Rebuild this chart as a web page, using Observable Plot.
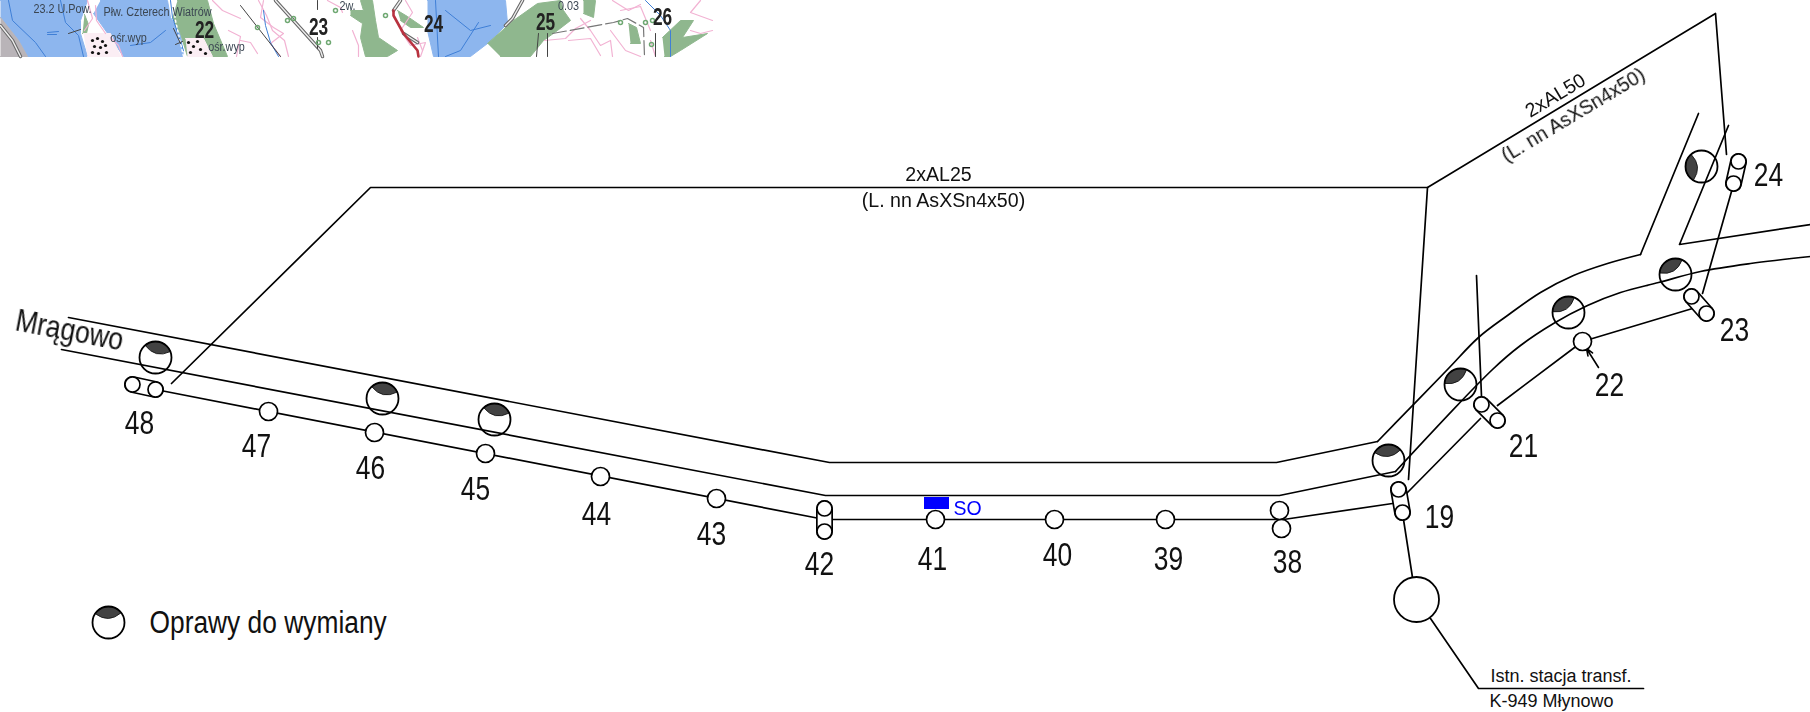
<!DOCTYPE html>
<html><head><meta charset="utf-8">
<script src="https://cdn.jsdelivr.net/npm/d3@7"></script>
<script src="https://cdn.jsdelivr.net/npm/@observablehq/plot@0.6"></script>
<style>
html,body{margin:0;padding:0;background:#fff;overflow:hidden}
svg{display:block}
.map{filter:blur(0.7px)}
</style></head><body><div id="c"></div>
<script>
// ---- network lines
const lineTop = [[68,317],[829,462],[1276,462],[1377,441]];
const lineTopCurve = [[1377,441],[1447,369],[1478,337],[1507,315],[1540,292],[1573,275],[1607,263],[1640,254]];
const lineTopEnd = [[1640,254],[1698,113]];
const lineMid = [[61,349],[825,495],[1279,495],[1395,471]];
const lineMidCurve = [[1395,471],[1492,369],[1520,345],[1553,323],[1587,305],[1620,292],[1658,282],[1700,271],[1750,263],[1810,256]];
const lineUpper = [[1728,125],[1679,244],[1810,224]];
const lineBottomA = [[155,389],[819,518]];
const lineBottomB = [[824,519],[1283,519],[1392,503]];
const lineBottomC = [[1406,493],[1480,418]];
const lineBottomD = [[1497,405],[1582,341],[1692,308]];
const line24 = [[1731,191],[1702,293]];
const lineFeedA = [[1403,519],[1412,577]];
const lineFeedB = [[1430,618],[1478,688],[1643,688]];
const lineBranch21 = [[1476,275],[1481,396]];
const lineCable = [[171,383],[370,187],[1427,187],[1715,13],[1726,154]];
const lineCableDrop = [[1427,187],[1408,479]];
const networkLines = [lineTop,lineTopEnd,lineMid,lineUpper,lineBottomA,lineBottomB,lineBottomC,lineBottomD,line24,lineFeedA,lineFeedB,lineBranch21,lineCable,lineCableDrop];
const networkCurves = [lineTopCurve,lineMidCurve];
// ---- poles
const polesSmall = [[132,384],[155,389],[824,508],[824,531],[1398,489],[1402,512],[1481,404],[1497,420],[1691,296],[1706,313],[1738,161],[1733,183]];
const polesLarge = [[268,411],[374,432],[485,453],[600,476],[716,498],[935,519],[1054,519],[1165,519],[1279,510],[1281,528],[1582,341]];
const capsules = [[132,384,155,389],[824,508,824,531],[1398,489,1402,512],[1481,404,1497,420],[1691,296,1706,313],[1738,161,1733,183]];
const station = [[1416,599]];
// ---- fixtures [x, y, rotation]
const fixtures = [[155,357,14],[382,398,12],[494,419,12],[1388,460,-6],[1460,384,-32],[1568,312,-33],[1675,274,-30],[1701,166,-95],[108,622,-2]];
// ---- labels
const poleLabels = [["48",139,423],["47",256,446],["46",370,468],["45",475,489],["44",596,514],["43",711,534],["42",819,564],["41",932,559],["40",1057,555],["39",1168,559],["38",1287,562],["19",1439,517],["21",1523,446],["22",1609,385],["23",1734,330],["24",1768,175]];
const cableLabelsFlat = [["2xAL25",938,174],["(L. nn AsXSn4x50)",943,200]];
const cableLabelsSlant = [["2xAL50",1555,95],["(L. nn AsXSn4x50)",1573,115]];
const stationLabels = [["Istn. stacja transf.",1490,676],["K-949 Młynowo",1489,701]];
const soBox = [[924,497,949,509]];
const soLabel = [["SO",953,508]];
const townLabel = [["Mrągowo",69,330]];
const legendLabel = [["Oprawy do wymiany",149,623]];
const arrow22 = [[1598,367,1586,348]];
// ---- map sheet
const mapBlue = [
  [[0,0],[87,0],[80,20],[80,33],[87,56],[27,56],[18,40],[0,17]],
  [[100,0],[167,0],[170,17],[180,33],[183,56],[123,56],[110,37],[93,13]],
  [[427,0],[505,0],[507,23],[487,43],[470,56],[433,56],[427,30]]
];
const mapGreen = [
  [[177,0],[207,0],[213,23],[227,56],[187,56],[180,33],[172,17]],
  [[350,10],[363,10],[360,0],[372,0],[375,20],[378,37],[397,50],[387,56],[365,56],[360,37],[362,23],[350,15]],
  [[397,10],[407,16],[423,27],[410,27],[400,20]],
  [[487,43],[513,20],[537,3],[560,0],[563,10],[570,20],[557,30],[543,40],[530,56],[500,56]],
  [[583,0],[595,0],[593,17],[583,13]],
  [[628,23],[636,27],[640,43],[630,43]],
  [[662,37],[680,20],[693,20],[682,37],[707,33],[680,50],[670,56],[664,56]],
  [[84,14],[88,24],[86,33],[82,33]]
];
const mapGrey = [[[0,17],[18,40],[27,56],[0,56]]];
const mapTown = [[[83,33],[110,33],[120,56],[87,56]],[[185,38],[203,38],[212,56],[187,56]]];
const mapPink = [
  [[87,0],[92,18],[84,30]],[[95,5],[96,20],[105,33]],[[110,37],[118,45],[122,56]],
  [[263,0],[260,17],[273,27],[283,33],[270,43],[280,56]],[[258,0],[266,15],[272,30],[284,40],[288,56]],
  [[240,40],[250,42],[257,53]],[[327,0],[340,7],[342,12]],[[352,30],[358,45],[358,56]],
  [[405,0],[412,12],[400,30],[410,45],[425,42],[420,56]],[[417,37],[422,50]],
  [[212,0],[222,10],[240,18]],[[228,30],[240,36],[236,56]],
  [[544,40],[565,38],[575,28],[590,20]],[[568,40],[590,38],[600,55]],[[580,18],[590,30],[600,45],[610,40],[612,56]],
  [[620,10],[640,6],[650,30]],[[610,30],[625,50],[640,56]],[[612,0],[628,10],[640,4]],
  [[690,30],[700,33],[712,30]],[[650,40],[655,56]],[[700,0],[690,12],[712,20]]
];
const mapRoads = [[[275,0],[320,50],[322,56]],[[400,0],[393,10]],[[403,33],[417,42]],[[505,25],[512,18],[522,0]],[[0,25],[12,40],[20,56]]];
const mapRoadRed = [[393,10],[393,15],[403,33],[417,50],[418,56]];
const mapDark = [[[240,5],[280,56]],[[317,0],[317,9]],[[317,37],[317,48]],[[68,33],[80,29]],[[538,33],[536,56]],[[547,33],[547,56]],[[655,33],[655,56]],[[173,28],[180,43]],[[175,44],[182,41]]];
const mapBlueLines = [[[263,10],[265,25],[270,42],[278,56]],[[645,0],[660,15],[670,30],[670,56]],[[170,0],[172,17],[183,50]],[[8,0],[12,20],[35,42],[45,56]],[[60,0],[65,22],[78,35],[83,56]],[[130,45],[150,42],[165,30]],[[445,10],[470,30],[490,25]],[[435,0],[438,56]],[[445,56],[460,50],[478,22]],[[47,32],[58,31]],[[47,34],[56,34]]];
const mapWhiteDots = [[172,0],[175,20],[183,56]];
const mapDashed = [[552,33],[613,22],[627,18],[643,27],[644,56]];
const mapBlack = [[92,40],[97,38],[102,41],[94,46],[100,47],[105,45],[92,52],[98,53],[106,52],[188,42],[193,46],[197,41],[200,49],[205,53],[190,52]];
const mapGreenDots = [[257,27],[287,20],[293,18],[335,10],[328,42],[318,42],[620,22],[645,22],[652,20],[651,44],[385,15]];
const mapBigNumbers = [["22",204,30],["23",318,27],["24",433,24],["25",545,22],["26",662,17]];
const mapSmallText = [["23.2 U.Pow.",62,9],["Płw. Czterech Wiatrów",157,12],["ośr.wyp",128,38],["ośr.wyp",226,47],["2w.",347,6],["0.03",568,6]];

// ---- lens symbol drawn by the dot mark, dark cap of a fixture
const lens = {draw(ctx, size){
  const r = Math.sqrt(size/Math.PI), a = Math.atan2(0.58, 0.81);
  const xe = r*0.81, ye = -r*0.58;
  ctx.moveTo(-xe, ye);
  ctx.arc(0, 0, r, Math.PI + a, 2*Math.PI - a);
  ctx.quadraticCurveTo(0, r*0.08, -xe, ye);
  ctx.closePath();
}};
const sans = "'Liberation Sans',Arial,sans-serif";
const X = d=>d[0], Y = d=>d[1], T = d=>d[0], TX = d=>d[1], TY = d=>d[2];
const poly = (p,fill)=>Plot.line(p,{x:X,y:Y,fill,stroke:fill,strokeWidth:1,className:"map"});
const path = (p,stroke,w,extra={})=>Plot.line(p,{x:X,y:Y,stroke,strokeWidth:w,className:"map",...extra});

const chart = Plot.plot({
  width:1810,height:712,margin:0,
  style:{background:"#fff",overflow:"hidden",maxWidth:"none"},
  x:{axis:null,domain:[0,1810],range:[0,1810]},
  y:{axis:null,domain:[0,712],range:[0,712]},
  marks:[
    ...mapBlue.map(p=>poly(p,"#8db6ee")),
    ...mapGreen.map(p=>poly(p,"#8fb78e")),
    ...mapGrey.map(p=>poly(p,"#b9b4b8")),
    ...mapTown.map(p=>poly(p,"#fbeef4")),
    ...mapPink.map(p=>path(p,"#f2b3d3",1.2)),
    ...mapBlueLines.map(p=>path(p,"#3f7fd6",1)),
    ...mapRoads.map(p=>path(p,"#666",3.5)),
    ...mapRoads.map(p=>path(p,"#eee",1.4)),
    path(mapRoadRed,"#b8323f",2.6),
    path(mapWhiteDots,"#fff",1.4,{strokeDasharray:"2 3"}),
    path(mapDashed,"#777",1.2,{strokeDasharray:"14 4"}),
    ...mapDark.map(p=>path(p,"#444",1)),
    Plot.dot(mapGreenDots,{x:X,y:Y,r:2,stroke:"#6fa872",fill:"none",className:"map"}),
    Plot.dot(mapBlack,{x:X,y:Y,r:1.6,fill:"#111",className:"map"}),
    Plot.text(mapSmallText,{x:TX,y:TY,text:T,fontSize:12,fontFamily:sans,fill:"#3b4652",className:"map squeeze-small"}),
    Plot.text(mapBigNumbers,{x:TX,y:TY,text:T,fontSize:24,fontWeight:"bold",fontFamily:sans,fill:"#222",className:"map squeeze-big"}),

    // fixtures under the lines
    Plot.dot(fixtures,{x:X,y:Y,r:16,symbol:lens,rotate:d=>d[2],fill:"#424242",stroke:"#111",strokeWidth:0.8}),
    Plot.dot(fixtures,{x:X,y:Y,r:16,fill:"none",stroke:"#000",strokeWidth:1.8}),

    ...networkLines.map(p=>Plot.line(p,{x:X,y:Y,stroke:"#000",strokeWidth:1.7})),
    ...networkCurves.map(p=>Plot.line(p,{x:X,y:Y,stroke:"#000",strokeWidth:1.7,curve:"catmull-rom"})),
    Plot.arrow(arrow22,{x1:d=>d[0],y1:d=>d[1],x2:d=>d[2],y2:d=>d[3],stroke:"#000",strokeWidth:1.6,headLength:16,headAngle:42,bend:0}),

    // pole capsules
    Plot.link(capsules,{x1:d=>d[0],y1:d=>d[1],x2:d=>d[2],y2:d=>d[3],stroke:"#000",strokeWidth:17,strokeLinecap:"round"}),
    Plot.link(capsules,{x1:d=>d[0],y1:d=>d[1],x2:d=>d[2],y2:d=>d[3],stroke:"#fff",strokeWidth:13.6,strokeLinecap:"round"}),
    Plot.dot(polesSmall,{x:X,y:Y,r:7.5,fill:"#fff",stroke:"#000",strokeWidth:1.7}),
    Plot.dot(polesLarge,{x:X,y:Y,r:9,fill:"#fff",stroke:"#000",strokeWidth:1.7}),
    Plot.dot(station,{x:X,y:Y,r:22.5,fill:"#fff",stroke:"#000",strokeWidth:1.8}),

    Plot.rect(soBox,{x1:d=>d[0],y1:d=>d[1],x2:d=>d[2],y2:d=>d[3],fill:"#0000ff"}),
    Plot.text(soLabel,{x:TX,y:TY,text:T,textAnchor:"start",fontSize:19.5,fontFamily:sans,fill:"#0000ff"}),

    Plot.text(poleLabels,{x:TX,y:TY,text:T,fontSize:33,fontFamily:sans,fill:"#111",className:"squeeze"}),
    Plot.text(cableLabelsFlat,{x:TX,y:TY,text:T,fontSize:19.6,fontFamily:sans,fill:"#111"}),
    Plot.text(cableLabelsSlant,{x:TX,y:TY,text:T,rotate:-31,fontSize:19.6,fontFamily:sans,fill:"#111"}),
    Plot.text(stationLabels,{x:TX,y:TY,text:T,textAnchor:"start",fontSize:18,fontFamily:sans,fill:"#111"}),
    Plot.text(townLabel,{x:TX,y:TY,text:T,rotate:10.8,fontSize:32,fontFamily:sans,fill:"#111",className:"squeeze-town"}),
    Plot.text(legendLabel,{x:TX,y:TY,text:T,textAnchor:"start",fontSize:31,fontFamily:sans,fill:"#111",className:"squeeze-legend"})
  ]
});
document.getElementById("c").append(chart);
// horizontally condensed type, as the reference's narrow face is not installed
const squeezeBy = {"squeeze":0.8,"squeeze-town":0.83,"squeeze-legend":0.85,"squeeze-small":0.9,"squeeze-big":0.72};
Object.entries(squeezeBy).forEach(([cls,k])=>{
  d3.select(chart).selectAll("."+cls+" text").each(function(){
    this.setAttribute("textLength", this.getComputedTextLength()*k);
    this.setAttribute("lengthAdjust","spacingAndGlyphs");
  });
});
</script></body></html>
